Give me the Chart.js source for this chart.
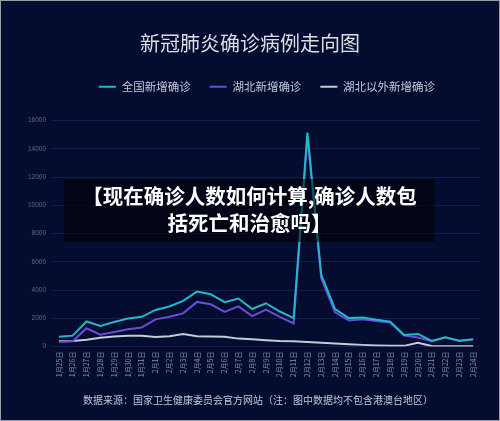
<!DOCTYPE html>
<html>
<head>
<meta charset="utf-8">
<script src="https://cdn.jsdelivr.net/npm/chart.js@4.4.1/dist/chart.umd.min.js"></script>
<style>
  html, body { margin: 0; padding: 0; background: #040d30; }
  #wrap { position: relative; width: 500px; height: 421px; background: #040d30; }
  #frame { position: absolute; left: 0; top: 0; width: 500px; height: 421px; box-sizing: border-box; border: 1px solid #9c9ca6; pointer-events: none; }
  #banner {
    position: absolute; left: 64px; top: 179px; width: 371px; height: 63px;
    box-sizing: border-box; padding-top: 3px;
    background: rgba(0, 0, 0, 0.55);
    color: #fff; font-family: "Noto Sans CJK SC", sans-serif; font-weight: bold;
    font-size: 20.5px; line-height: 27px; text-align: center;
  }
</style>
</head>
<body>
<div id="wrap">
  <canvas id="grafico" width="500" height="421"></canvas>
  <div id="banner">【现在确诊人数如何计算,确诊人数包<br>括死亡和治愈吗】</div>
  <div id="frame"></div>
</div>
<script>
// dados
var datas = ['1月25日','1月26日','1月27日','1月28日','1月29日','1月30日','1月31日',
  '2月1日','2月2日','2月3日','2月4日','2月5日','2月6日','2月7日','2月8日','2月9日',
  '2月10日','2月11日','2月12日','2月13日','2月14日','2月15日','2月16日','2月17日',
  '2月18日','2月19日','2月20日','2月21日','2月22日','2月23日','2月24日'];
var quanguo = [688,769,1771,1459,1737,1982,2102,2590,2829,3235,3887,3694,3143,3399,2656,3062,
  2478,2015,15152,5090,2641,2009,2048,1886,1749,820,889,397,648,409,508];
var hubei = [323,371,1291,840,1032,1220,1347,1921,2103,2345,3156,2987,2447,2841,2147,2618,
  2097,1638,14840,4823,2420,1843,1933,1807,1693,775,631,366,630,398,499];
var foraHubei = [365,398,480,619,705,762,755,669,726,890,731,707,696,558,509,444,
  381,377,312,267,221,166,115,79,56,45,258,31,18,11,9];
var yTicks = [0,2000,4000,6000,8000,10000,12000,14000,16000];

var fonte = '"Noto Sans CJK SC", sans-serif';
var rodape = '数据来源：国家卫生健康委员会官方网站（注：图中数据均不包含港澳台地区）';

// espaço extra abaixo da legenda e deslocamentos horizontais
var ajusteLegenda = {
  id: 'ajusteLegenda',
  beforeInit: function (chart) {
    var fit = chart.legend.fit;
    chart.legend.fit = function () {
      fit.call(this);
      this.height += 18;
    };
  },
  afterLayout: function (chart) {
    chart.legend.left += 17;
    chart.legend.right += 17;
    chart.boxes.forEach(function (b) {
      if (b.options && b.options.text === rodape) {
        b.left += 8;
        b.right += 8;
      }
    });
  }
};

var serie = function (label, data, cor) {
  return {
    label: label,
    data: data,
    borderColor: cor,
    backgroundColor: cor,
    borderWidth: 2,
    pointRadius: 0,
    tension: 0,
    fill: false
  };
};

var grafico = document.getElementById('grafico').getContext('2d');
var chart = new Chart(grafico, {
  type: 'line',
  data: {
    labels: datas,
    datasets: [
      serie('全国新增确诊', quanguo, '#22b8c9'),
      serie('湖北新增确诊', hubei, '#6c4bd6'),
      serie('湖北以外新增确诊', foraHubei, '#c9c9d6')
    ]
  },
  options: {
    responsive: false,
    animation: false,
    layout: { padding: 0 },
    plugins: {
      title: {
        display: true,
        text: '新冠肺炎确诊病例走向图',
        color: '#dcdce4',
        font: { family: fonte, size: 20, weight: 'normal' },
        padding: { top: 31, bottom: 7 }
      },
      legend: {
        display: true,
        labels: {
          color: '#c3c6d6',
          font: { family: fonte, size: 11.5 },
          usePointStyle: true,
          pointStyle: 'line',
          pointStyleWidth: 17,
          padding: 19
        }
      },
      subtitle: {
        display: true,
        position: 'bottom',
        text: rodape,
        color: '#c3c6d6',
        font: { family: fonte, size: 10, weight: 'normal' },
        padding: { top: 5, bottom: 15 }
      },
      tooltip: { enabled: false }
    },
    scales: {
      x: {
        offset: true,
        grid: { display: false, drawTicks: false },
        border: { display: false },
        ticks: {
          color: '#8d93ab',
          font: { family: fonte, size: 7 },
          maxRotation: 90,
          minRotation: 90,
          autoSkip: false,
          padding: 5
        },
        afterFit: function (scale) { scale.height = 42.5; }
      },
      y: {
        min: 0,
        max: 16000,
        grid: { color: '#141e4c', drawTicks: false },
        border: { display: false },
        ticks: {
          color: '#5d6688',
          font: { family: 'Liberation Sans', size: 6.5 },
          padding: 6,
          stepSize: 2000,
          callback: function (v) { return yTicks.indexOf(v) >= 0 ? String(v) : ''; }
        },
        afterFit: function (scale) { scale.width = 52; }
      },
      y2: {
        position: 'right',
        display: true,
        grid: { display: false, drawTicks: false },
        border: { display: false },
        ticks: { display: false },
        afterFit: function (scale) { scale.width = 20; }
      }
    }
  },
  plugins: [ajusteLegenda]
});
</script>
</body>
</html>
